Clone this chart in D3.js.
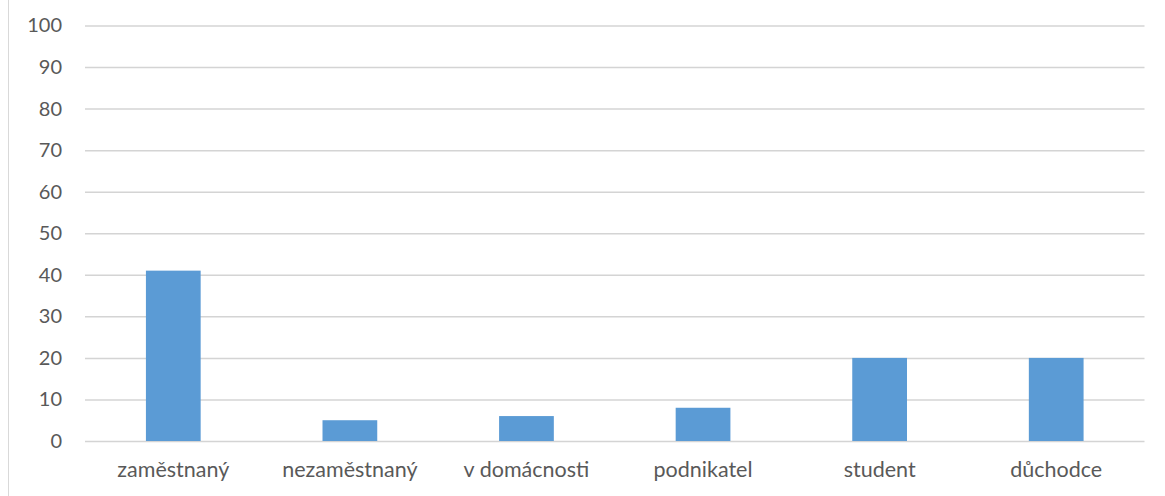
<!DOCTYPE html>
<html>
<head>
<meta charset="utf-8">
<script src="https://cdn.jsdelivr.net/npm/d3@7"></script>
<style>
  body { margin: 0; background: #fff; }
  text { font-family: Lato, "Open Sans", sans-serif; fill: #595959; }
</style>
</head>
<body>
<div id="target"></div>
<script>
const categories = ["zaměstnaný", "nezaměstnaný", "v domácnosti", "podnikatel", "student", "důchodce"];
const values = [41, 5, 6, 8, 20, 20];
const yTicks = [0, 10, 20, 30, 40, 50, 60, 70, 80, 90, 100];

function bar() {
  const width = 1165,
    height = 496,
    left = 85,
    right = 1144.5,
    top = 25.5,
    bottom = 441;

  let svg = d3.select("#target").append("svg")
    .attr("width", width)
    .attr("height", height);

  // chart border (only left edge visible in crop)
  svg.append("line")
    .attr("x1", 8.5).attr("x2", 8.5)
    .attr("y1", 0).attr("y2", height)
    .attr("stroke", "#d9d9d9");

  let x = d3.scaleBand()
    .domain(categories)
    .range([left, right])
    .paddingInner(0.69)
    .paddingOuter(0.345);
  let y = d3.scaleLinear()
    .domain([0, 100])
    .range([bottom, top]);

  let yAxis = d3.axisLeft(y)
    .tickValues(yTicks)
    .tickSize(-(right - left))
    .tickPadding(23);
  svg.append("g")
    .attr("class", "y axis")
    .attr("transform", `translate(${left},0)`)
    .call(yAxis)
    .call(g => g.select(".domain").remove())
    .call(g => g.selectAll("line").attr("stroke", "#d4d4d4").attr("stroke-width", 1.5))
    .call(g => g.selectAll("text").style("font-size", "20px").attr("fill", "#595959"));

  svg.selectAll("rect.bar")
    .data(values)
    .enter().append("rect")
    .attr("class", "bar")
    .attr("fill", "#5b9bd5")
    .attr("x", (d, i) => x(categories[i]))
    .attr("width", x.bandwidth())
    .attr("y", (d) => y(d))
    .attr("height", (d) => y(0) - y(d));

  let xAxis = d3.axisBottom(x)
    .tickSize(0)
    .tickPadding(21);
  svg.append("g")
    .attr("class", "x axis")
    .attr("transform", `translate(0,${bottom})`)
    .call(xAxis)
    .call(g => g.select(".domain").remove())
    .call(g => g.selectAll("text").style("font-size", "21.5px").attr("fill", "#595959"));
}
bar();
</script>
</body>
</html>
